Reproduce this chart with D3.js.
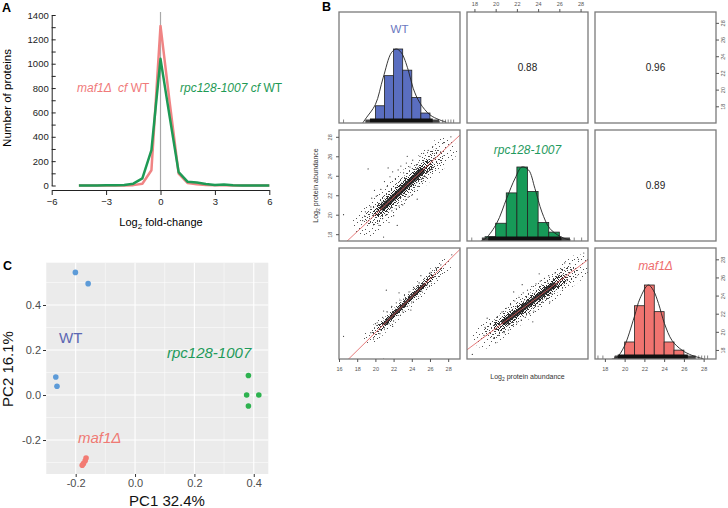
<!DOCTYPE html>
<html><head><meta charset="utf-8">
<script src="https://cdn.jsdelivr.net/npm/d3@7"></script>
<style>body{margin:0;background:#fff}svg{display:block}text{font-family:"Liberation Sans",Arial,sans-serif;white-space:pre}</style>
</head><body><svg id="c" width="728" height="508"></svg>
<script>
// ---------------- DATA ----------------
// Panel A: histogram of log2 fold-changes
const foldX = [-4.5,-4,-3.5,-3,-2.5,-2,-1.5,-1,-0.5,0,0.5,1,1.5,2,2.5,3,3.5,4,4.5,5,5.5,6];
const maf1Counts = [0,0,0,0,1,1,3,14,125,1310,690,97,20,10,5,3,2,1,0,0,0,0];
const rpcCounts  = [0,1,1,2,3,5,15,58,290,1040,570,110,30,24,12,5,8,2,1,1,0,0];
const countTicks = [0,100,200,300,400,500,600,700,800,900,1000,1100,1200,1300,1400];
const foldTicks = [-6,-3,0,3,6];

// Panel B: pairs plot of log2 protein abundance
const sampleNames = ["WT","rpc128-1007","maf1Δ"];
const rangeWT = [16.0,29.3];
const rangeRpc = [17.3,28.7];
const rangeMaf1 = [17.0,29.25];
const abTicksCol0 = [16,18,20,22,24,26,28];
const abTicks = [18,20,22,24,26,28];
const binEdges = [19,20,21,22,23,24,25,26,27];
const histWT   = [0.03,0.233,0.64,1.0,0.714,0.345,0.135,0.02];
const histRpc  = [0.058,0.24,0.65,1.0,0.67,0.25,0.12,0.02];
const histMaf1 = [0.03,0.23,0.72,1.0,0.64,0.23,0.12,0.03];
const densWT   = [[18.6,0],[19.0,0.07],[20.0,0.25],[20.85,0.61],[21.76,0.95],[22.3,1.0],[22.85,0.95],[23.6,0.72],[24.15,0.47],[24.9,0.27],[26.0,0.11],[27.0,0.045],[27.8,0.01]];
const densRpc  = [[18.6,0],[19.1,0.04],[20.1,0.24],[21.05,0.58],[21.84,0.85],[22.47,1.0],[23.1,0.96],[23.7,0.71],[24.36,0.39],[25.1,0.17],[26.1,0.06],[27.0,0.01]];
const densMaf1 = [[18.7,0],[19.2,0.02],[19.96,0.17],[20.98,0.57],[21.56,0.82],[22.4,1.0],[22.9,0.93],[23.43,0.75],[24.03,0.48],[24.8,0.25],[25.8,0.12],[26.8,0.05],[27.5,0.02],[28.0,0]];
const rugLightWT = [18.9,27.0], rugDenseWT = [19.4,26.3], rugSparseWT = [16.5,27.4,27.7,28.0,28.3,28.6];
const rugLightRpc = [18.7,27.0], rugDenseRpc = [19.3,26.2], rugSparseRpc = [17.75,27.4,28.1];
const rugLightMaf1 = [19.0,27.2], rugDenseMaf1 = [19.3,26.4], rugSparseMaf1 = [17.3,17.8,27.5,27.8,28.1,28.4];
const corrWTrpc = 0.88, corrWTmaf1 = 0.96, corrRpcMaf1 = 0.89;
const fitWTrpc = [2.46,0.878], fitWTmaf1 = [0.15,0.988], fitRpcMaf1 = [2.93,0.872];
// extents of the point cloud along the fit line (x units) and its half-spread (y units), outer to inner
const coreWTrpc = [[19.0,27.5],[19.7,26.6],[20.3,25.8],[20.8,25.1]], spreadWTrpc = [1.9,1.2,0.75,0.4];
const coreWTmaf1 = [[19.5,27.6],[20.0,27.0],[20.6,26.2],[21.0,25.4]], spreadWTmaf1 = [1.1,0.7,0.45,0.24];
const coreRpcMaf1 = [[19.0,27.8],[19.7,27.0],[20.3,26.2],[20.8,25.5]], spreadRpcMaf1 = [1.7,1.1,0.7,0.36];
const ptsWTrpc = [[16.5,20.0],[20.9,17.7],[19.2,24.7],[28.3,28.0],[26.7,26.8],[27.5,27.4],
 [19.5,20.8],[19.8,19.0],[20.1,21.9],[20.4,18.9],[20.6,22.6],[20.8,19.6],[21.0,23.4],[21.2,20.0],[21.3,22.9],[21.5,19.2],[21.6,23.9],[21.8,20.4],[21.9,24.4],[22.0,19.9],[22.2,23.7],[22.3,20.6],[22.5,24.6],[22.6,20.9],[22.8,25.0],[23.0,21.0],[23.1,24.3],[23.3,21.5],[23.4,25.3],[23.6,21.8],[23.8,24.9],[24.0,22.0],[24.1,25.6],[24.3,22.4],[24.5,25.1],[24.7,22.9],[24.9,26.0],[25.1,23.4],[25.3,26.3],[25.5,23.9],[25.8,26.6],[26.0,24.6],[26.3,27.0],[19.9,22.5],[19.6,21.7],[20.2,20.5],[18.9,20.3],[18.6,19.4],[22.4,18.9],[23.5,26.0],[21.4,24.8],[24.6,21.6],[25.7,25.0],[26.5,25.8],[20.7,21.3],[21.1,21.4],[23.7,23.0],[22.9,22.1]];
const ptsWTmaf1 = [[16.5,19.5],[20.9,17.0],[21.2,24.6],[28.4,28.5],[19.8,19.2],[20.2,21.0],[20.5,19.8],[20.8,21.6],[21.0,20.3],[21.3,22.2],[21.5,20.9],[21.8,22.8],[22.0,21.2],[22.3,23.2],[22.5,21.8],[22.7,23.5],[23.0,22.3],[23.2,24.0],[23.5,22.8],[23.7,24.4],[24.0,23.3],[24.2,24.9],[24.5,23.9],[24.8,25.4],[25.1,24.5],[25.4,25.9],[25.7,25.2],[26.0,26.5],[26.4,26.0],[26.7,27.0],[27.2,27.4],[20.0,20.9],[19.5,19.9],[21.9,20.6],[22.6,24.3],[23.9,22.4],[20.9,22.3],[25.0,26.2]];
const ptsRpcMaf1 = [[17.8,17.5],[28.3,28.7],[27.8,28.0],[27.0,27.5],[19.5,20.9],[19.8,19.3],[20.1,21.6],[20.3,19.6],[20.6,22.2],[20.8,19.9],[21.0,22.6],[21.2,20.2],[21.4,23.0],[21.6,20.7],[21.8,23.4],[22.0,21.0],[22.2,23.8],[22.4,21.3],[22.6,24.3],[22.8,21.6],[23.0,24.6],[23.2,22.0],[23.4,25.0],[23.6,22.3],[23.8,25.3],[24.0,22.8],[24.2,25.6],[24.4,23.3],[24.6,25.9],[24.8,23.7],[25.0,26.2],[25.3,24.2],[25.6,26.5],[25.9,24.8],[26.2,26.9],[26.6,25.6],[18.9,19.6],[19.2,21.5],[20.0,18.8],[22.5,25.2],[23.5,21.1],[21.7,24.4],[25.1,23.3],[24.1,26.4],[26.5,27.6],[19.0,20.5]];

// Panel C: PCA
const pcaWT   = [[-0.201,0.545],[-0.158,0.495],[-0.267,0.080],[-0.263,0.039]];
const pcaMaf1 = [[-0.165,-0.280],[-0.168,-0.292],[-0.174,-0.305],[-0.178,-0.312]];
const pcaRpc  = [[0.382,0.087],[0.376,0.000],[0.417,0.000],[0.382,-0.049]];
const pcTicks = [-0.2,0.0,0.2,0.4];
const pcMinorX = [-0.3,-0.1,0.1,0.3];
const pcMinorY = [-0.3,-0.1,0.1,0.3,0.5];

// ---------------- DRAW ----------------
const svg = d3.select("#c");
const defs = svg.append("defs");

[["A",2,12],["B",322,11],["C",3,270]].forEach(([t,x,y])=>svg.append("text").attr("x",x).attr("y",y).attr("font-size",12.5).attr("font-weight","bold").text(t));

// ===== Panel A =====
const xA = d3.scaleLinear().domain([-6,6]).range([51.7,269.3]);
const yA = d3.scaleLinear().domain([0,1400]).range([185.5,15]);
const gA = svg.append("g");
gA.append("line").attr("x1",xA(0)).attr("x2",xA(0)).attr("y1",12).attr("y2",190).attr("stroke","#a8a8a8").attr("stroke-width",1.2);
const lineA = d3.line().x((d,i)=>xA(foldX[i])).y(d=>yA(d));
gA.append("path").datum(maf1Counts).attr("d",lineA).attr("fill","none").attr("stroke","#f08484").attr("stroke-width",2.5).attr("stroke-linejoin","round");
gA.append("path").datum(rpcCounts).attr("d",lineA).attr("fill","none").attr("stroke","#1e9a55").attr("stroke-width",2.5).attr("stroke-linejoin","round");
const ayA = gA.append("g").attr("transform",`translate(${xA(-6)},0)`)
  .call(d3.axisLeft(yA).tickValues(countTicks).tickSize(-4).tickSizeOuter(0).tickPadding(3).tickFormat(d=>d%200===0?d:""));
const axA = gA.append("g").attr("transform","translate(0,190)")
  .call(d3.axisBottom(xA).tickValues(foldTicks).tickSize(5).tickSizeOuter(0).tickPadding(3));
[ayA,axA].forEach(g=>{g.attr("color","#222");g.selectAll("text").attr("font-size",9.5).attr("font-family",'"Liberation Sans",Arial,sans-serif');});
gA.append("text").attr("transform","translate(11,98) rotate(-90)").attr("text-anchor","middle").attr("font-size",11.5).text("Number of proteins");
const txA = gA.append("text").attr("x",161).attr("y",226).attr("text-anchor","middle").attr("font-size",11);
txA.append("tspan").text("Log");
txA.append("tspan").attr("font-size",8).attr("dy",3).text("2");
txA.append("tspan").attr("dy",-3).text(" fold-change");
const lbl1 = gA.append("text").attr("x",77).attr("y",92).attr("font-size",12).attr("fill","#f07a7a");
lbl1.append("tspan").attr("font-style","italic").text("maf1Δ  cf");
lbl1.append("tspan").text(" WT");
const lbl2 = gA.append("text").attr("x",180).attr("y",92).attr("font-size",12).attr("fill","#1e9a55");
lbl2.append("tspan").attr("font-style","italic").text("rpc128-1007 cf");
lbl2.append("tspan").text(" WT");

// ===== Panel B =====
const cellX=[339,467,595], cellY=[12,130,248], CW=121, CH=111;
const ranges=[rangeWT,rangeRpc,rangeMaf1];
const xs = ranges.map((r,i)=>d3.scaleLinear().domain(r).range([cellX[i],cellX[i]+CW]));
const ys = ranges.map((r,i)=>d3.scaleLinear().domain(r).range([cellY[i]+CH,cellY[i]]));
const gB = svg.append("g");

function pattern(id,size,cells,col){
  const p=defs.append("pattern").attr("id",id).attr("width",size).attr("height",size).attr("patternUnits","userSpaceOnUse");
  cells.forEach(([x,y])=>p.append("rect").attr("x",x).attr("y",y).attr("width",1).attr("height",1).attr("fill",col));
}
pattern("pVery",13,[[0,0],[6,1],[10,3],[3,4],[8,7],[1,8],[11,9],[5,10],[9,12],[2,12]],"#555");
pattern("pSparse",9,[[0,0],[4,0],[7,1],[2,2],[5,3],[8,4],[1,5],[3,6],[6,6],[0,7],[8,7],[4,8]],"#444");
pattern("pDense",6,[[0,0],[2,0],[4,1],[1,1],[3,2],[5,2],[0,3],[2,3],[4,4],[1,4],[5,5],[3,5],[0,5]],"#222");

for(let r=0;r<3;r++)for(let c=0;c<3;c++){
  defs.append("clipPath").attr("id",`cl${r}${c}`).append("rect").attr("x",cellX[c]).attr("y",cellY[r]).attr("width",CW).attr("height",CH);
}

const hists=[histWT,histRpc,histMaf1], dens=[densWT,densRpc,densMaf1];
const rugsL=[rugLightWT,rugLightRpc,rugLightMaf1], rugsD=[rugDenseWT,rugDenseRpc,rugDenseMaf1], rugsS=[rugSparseWT,rugSparseRpc,rugSparseMaf1];
const hFill=["#5a6ec0","#179a58","#f07470"];
const lblCol=["#6b78bf","#1f9a5e","#ee6d6d"];
for(let i=0;i<3;i++){
  const g=gB.append("g").attr("clip-path",`url(#cl${i}${i})`);
  const hy=d3.scaleLinear().domain([0,1.5]).range([cellY[i]+CH,cellY[i]]);
  g.selectAll("rect.bar").data(hists[i]).join("rect").attr("class","bar")
    .attr("x",(d,k)=>xs[i](binEdges[k])).attr("width",(d,k)=>xs[i](binEdges[k+1])-xs[i](binEdges[k]))
    .attr("y",d=>hy(d)).attr("height",d=>hy(0)-hy(d))
    .attr("fill",hFill[i]).attr("stroke","#222").attr("stroke-width",0.8);
  const bottom=cellY[i]+CH;
  g.append("rect").attr("x",xs[i](rugsL[i][0])).attr("width",xs[i](rugsL[i][1])-xs[i](rugsL[i][0])).attr("y",bottom-3.5).attr("height",3.5).attr("fill","#444");
  g.append("rect").attr("x",xs[i](rugsD[i][0])).attr("width",xs[i](rugsD[i][1])-xs[i](rugsD[i][0])).attr("y",bottom-4.5).attr("height",4.5).attr("fill","#111");
  g.selectAll("line.rug").data(rugsS[i]).join("line").attr("class","rug").attr("x1",d=>xs[i](d)).attr("x2",d=>xs[i](d)).attr("y1",bottom-3.5).attr("y2",bottom).attr("stroke","#333").attr("stroke-width",0.6);
  g.append("path").datum(dens[i]).attr("d",d3.line().x(d=>xs[i](d[0])).y(d=>hy(d[1])).curve(d3.curveCatmullRom)).attr("fill","none").attr("stroke","#222").attr("stroke-width",0.9);
  const t=gB.append("text").attr("x",cellX[i]+CW/2).attr("y",[33,153.5,270][i]).attr("text-anchor","middle").attr("font-size",i===0?11.5:12).attr("fill",lblCol[i]).text(sampleNames[i]);
  if(i>0)t.attr("font-style","italic");
}

const scat=[
  {r:1,c:0,pts:ptsWTrpc,fit:fitWTrpc,core:coreWTrpc,spread:spreadWTrpc},
  {r:2,c:0,pts:ptsWTmaf1,fit:fitWTmaf1,core:coreWTmaf1,spread:spreadWTmaf1},
  {r:2,c:1,pts:ptsRpcMaf1,fit:fitRpcMaf1,core:coreRpcMaf1,spread:spreadRpcMaf1}
];
scat.forEach(s=>{
  const X=xs[s.c], Y=ys[s.r];
  const g=gB.append("g").attr("clip-path",`url(#cl${s.r}${s.c})`);
  const f=v=>s.fit[0]+s.fit[1]*v;
  const pxY=Math.abs(Y(1)-Y(0)), pxX=Math.abs(X(1)-X(0));
  const theta=Math.atan(s.fit[1]*pxY/pxX);
  const fills=["url(#pVery)","url(#pSparse)","url(#pDense)","#1c1c1c"];
  s.core.forEach((ext,k)=>{
    g.append("path").attr("d",d3.line()([[X(ext[0]),Y(f(ext[0]))],[X(ext[1]),Y(f(ext[1]))]]))
     .attr("stroke",fills[k]).attr("stroke-width",2*s.spread[k]*pxY*Math.cos(theta)).attr("stroke-linecap","round").attr("fill","none")
     .attr("opacity",k===3?0.88:1);
  });
  g.selectAll("circle").data(s.pts).join("circle").attr("cx",d=>X(d[0])).attr("cy",d=>Y(d[1])).attr("r",0.6).attr("fill","#333");
  const xd=X.domain();
  g.append("line").attr("x1",X(xd[0])).attr("y1",Y(f(xd[0]))).attr("x2",X(xd[1])).attr("y2",Y(f(xd[1]))).attr("stroke","#e05a5a").attr("stroke-width",0.8);
});

[[0,1,corrWTrpc],[0,2,corrWTmaf1],[1,2,corrRpcMaf1]].forEach(([r,c,v])=>{
  gB.append("text").attr("x",cellX[c]+CW/2).attr("y",cellY[r]+CH/2+3.5).attr("text-anchor","middle").attr("font-size",10).attr("fill","#222").text(v.toFixed(2));
});

for(let r=0;r<3;r++)for(let c=0;c<3;c++){
  gB.append("rect").attr("x",cellX[c]).attr("y",cellY[r]).attr("width",CW).attr("height",CH).attr("fill","none").attr("stroke","#7a7a7a").attr("stroke-width",1.3);
}

function styleAx(g){g.select(".domain").remove();g.attr("color","#555");g.selectAll("text").attr("font-size",5.5).attr("font-family",'"Liberation Sans",Arial,sans-serif');}
styleAx(gB.append("g").attr("transform",`translate(0,${cellY[2]+CH})`).call(d3.axisBottom(xs[0]).tickValues(abTicksCol0).tickSize(3).tickPadding(5)));
styleAx(gB.append("g").attr("transform",`translate(0,${cellY[2]+CH})`).call(d3.axisBottom(xs[2]).tickValues(abTicks).tickSize(3).tickPadding(5)));
styleAx(gB.append("g").attr("transform",`translate(0,${cellY[0]})`).call(d3.axisTop(xs[1]).tickValues(abTicks).tickSize(3).tickPadding(3)));
function rotLabels(g,off){g.selectAll("text").attr("x",0).attr("dy",0).attr("text-anchor","middle").attr("transform",`translate(${off},0) rotate(-90)`);}
let ga=gB.append("g").attr("transform",`translate(${cellX[2]+CW},0)`).call(d3.axisRight(ys[0]).tickValues(abTicks).tickSize(3));styleAx(ga);rotLabels(ga,9);
ga=gB.append("g").attr("transform",`translate(${cellX[0]},0)`).call(d3.axisLeft(ys[1]).tickValues(abTicks).tickSize(3));styleAx(ga);rotLabels(ga,-7);
ga=gB.append("g").attr("transform",`translate(${cellX[2]+CW},0)`).call(d3.axisRight(ys[2]).tickValues(abTicks).tickSize(3));styleAx(ga);rotLabels(ga,9);

function abTitle(g){g.append("tspan").text("Log");g.append("tspan").attr("font-size",5).attr("dy",2).text("2");g.append("tspan").attr("dy",-2).text(" protein abundance");}
abTitle(gB.append("text").attr("x",cellX[1]+CW/2).attr("y",379).attr("text-anchor","middle").attr("font-size",7).attr("fill","#333"));
abTitle(gB.append("text").attr("transform",`translate(318,${cellY[1]+CH/2}) rotate(-90)`).attr("text-anchor","middle").attr("font-size",7).attr("fill","#333"));

// ===== Panel C =====
const xC = d3.scaleLinear().domain([-0.3,0.449]).range([46,268.3]);
const yC = d3.scaleLinear().domain([-0.351,0.588]).range([474,262.7]);
const gC = svg.append("g");
gC.append("rect").attr("x",xC.range()[0]).attr("y",yC.range()[1]).attr("width",xC.range()[1]-xC.range()[0]).attr("height",yC.range()[0]-yC.range()[1]).attr("fill","#ebebeb");
gC.selectAll("line.mx").data(pcMinorX).join("line").attr("x1",d=>xC(d)).attr("x2",d=>xC(d)).attr("y1",yC.range()[0]).attr("y2",yC.range()[1]).attr("stroke","#fff").attr("stroke-width",0.5);
gC.selectAll("line.my").data(pcMinorY).join("line").attr("y1",d=>yC(d)).attr("y2",d=>yC(d)).attr("x1",xC.range()[0]).attr("x2",xC.range()[1]).attr("stroke","#fff").attr("stroke-width",0.5);
gC.selectAll("line.Mx").data(pcTicks).join("line").attr("x1",d=>xC(d)).attr("x2",d=>xC(d)).attr("y1",yC.range()[0]).attr("y2",yC.range()[1]).attr("stroke","#fff").attr("stroke-width",1.1);
gC.selectAll("line.My").data(pcTicks).join("line").attr("y1",d=>yC(d)).attr("y2",d=>yC(d)).attr("x1",xC.range()[0]).attr("x2",xC.range()[1]).attr("stroke","#fff").attr("stroke-width",1.1);
[[pcaWT,"#5d9bd8"],[pcaMaf1,"#f27b73"],[pcaRpc,"#2db24f"]].forEach(([pts,col])=>{
  gC.append("g").selectAll("circle").data(pts).join("circle").attr("cx",d=>xC(d[0])).attr("cy",d=>yC(d[1])).attr("r",2.8).attr("fill",col);
});
function styleC(g){g.select(".domain").remove();g.selectAll("line").attr("stroke","#333");g.selectAll("text").attr("fill","#4d4d4d").attr("font-size",11).attr("font-family",'"Liberation Sans",Arial,sans-serif');}
styleC(gC.append("g").attr("transform","translate(46,0)").call(d3.axisLeft(yC).tickValues(pcTicks).tickSize(3).tickPadding(2).tickFormat(d=>d.toFixed(1))));
styleC(gC.append("g").attr("transform","translate(0,474)").call(d3.axisBottom(xC).tickValues(pcTicks).tickSize(3).tickPadding(2).tickFormat(d=>d.toFixed(1))));
gC.append("text").attr("x",167).attr("y",506).attr("text-anchor","middle").attr("font-size",15).attr("fill","#111").text("PC1 32.4%");
gC.append("text").attr("transform","translate(13,369) rotate(-90)").attr("text-anchor","middle").attr("font-size",15).attr("fill","#111").text("PC2 16.1%");
gC.append("text").attr("x",59).attr("y",343).attr("font-size",15).attr("fill","#5b67b3").text("WT");
gC.append("text").attr("x",167).attr("y",358).attr("font-size",15).attr("font-style","italic").attr("fill","#1f9a5a").text("rpc128-1007");
gC.append("text").attr("x",78).attr("y",443).attr("font-size",15).attr("font-style","italic").attr("fill","#ef7a74").text("maf1Δ");
</script></body></html>
